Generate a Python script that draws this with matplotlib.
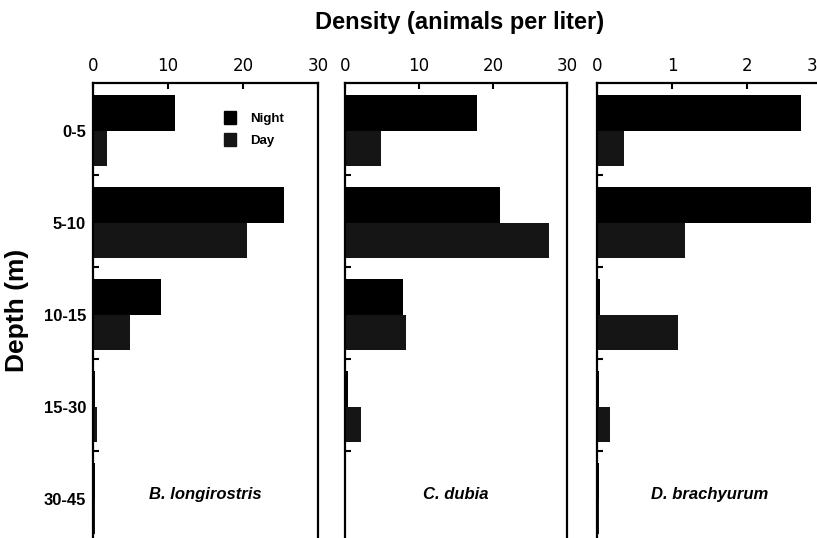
import numpy as np
import matplotlib
matplotlib.use('Agg')
import matplotlib.pyplot as plt
import matplotlib.transforms as mtransforms
from matplotlib.patches import Patch

plt.rcParams['font.family'] = ['Liberation Sans', 'DejaVu Sans']

depths = ['0-5', '5-10', '10-15', '15-30', '30-45']
species = ['B. longirostris', 'C. dubia', 'D. brachyurum']
night = [
    [10.9, 25.5, 9.0, 0.3, 0.2],
    [17.8, 21.0, 7.8, 0.4, 0.1],
    [2.72, 2.85, 0.04, 0.02, 0.02],
]
day = [
    [1.9, 20.5, 4.9, 0.5, 0.2],
    [4.9, 27.5, 8.2, 2.2, 0.1],
    [0.36, 1.17, 1.08, 0.17, 0.02],
]
xmax = [30, 30, 3]
xticks = [[0, 10, 20, 30], [0, 10, 20, 30], [0, 1, 2, 3]]

fig = plt.figure(figsize=(8.17, 5.38), dpi=100)
lefts = [93, 345, 597]
rights = [318, 567, 822]   # last panel runs past the right edge, as in the scan
top = 1 - 83 / 538
bottom = 1 - 543 / 538

y = np.arange(len(depths))
axes = []
for k in range(3):
    x0 = lefts[k] / 817
    w = (rights[k] - lefts[k]) / 817
    ax = fig.add_axes([x0, bottom, w, top - bottom])
    ax.barh(y + 0.13, night[k], height=0.39, align='edge', color='black', label='Night')
    ax.barh(y + 0.52, day[k], height=0.38, align='edge', color='#151515', label='Day')
    ax.set_xlim(0, xmax[k])
    ax.set_ylim(len(depths), 0)
    ax.xaxis.tick_top()
    ax.set_xticks(xticks[k])
    ax.set_xticklabels([str(t) for t in xticks[k]], family='DejaVu Sans', fontsize=12)
    ax.tick_params(axis='x', direction='in', length=4, width=1.5, pad=6)
    ax.set_yticks(y + 0.52)
    ax.set_yticks(np.arange(1, len(depths)), minor=True)
    ax.tick_params(axis='y', which='major', length=0, pad=5)
    ax.tick_params(axis='y', which='minor', direction='in', length=4, width=1.5)
    if k == 0:
        ax.set_yticklabels(depths, fontsize=12, fontweight='bold')
    else:
        ax.set_yticklabels([])
    for s in ax.spines.values():
        s.set_linewidth(1.6)
    ax.text(0.5, 0.105, species[k], transform=ax.transAxes, ha='center', va='center',
            fontsize=12, fontweight='bold', fontstyle='italic')
    axes.append(ax)

# pull the last "3" label back inside the figure
lab = axes[2].get_xticklabels()[-1]
lab.set_horizontalalignment('right')
lab.set_transform(lab.get_transform() + mtransforms.ScaledTranslation(-5 / 100, 0, fig.dpi_scale_trans))

handles = [Patch(color='black', label='Night'), Patch(color='#151515', label='Day')]
axes[0].legend(handles=handles, loc='upper left', bbox_to_anchor=(0.53, 0.965), frameon=False,
               handlelength=0.9, handleheight=1.1, handletextpad=1.1, labelspacing=0.65,
               prop={'weight': 'bold', 'size': 9.5})

fig.text(460 / 817, 1 - 22 / 538, 'Density (animals per liter)', ha='center', va='center',
         fontsize=17, fontweight='bold')
fig.text(17 / 817, 1 - 310 / 538, 'Depth (m)', ha='center', va='center', rotation=90,
         fontsize=19, fontweight='bold')

fig.savefig('out.png', dpi=100)
